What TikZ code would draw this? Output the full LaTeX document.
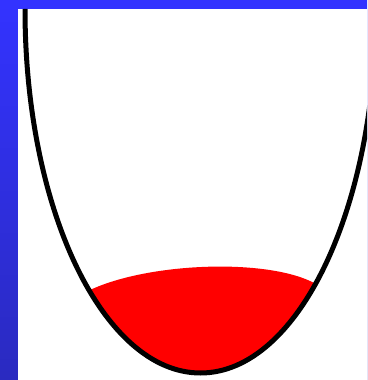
\documentclass[tikz,border=0pt]{standalone}
\definecolor{bgtop}{RGB}{51,51,255}
\definecolor{bgbot}{RGB}{42,42,192}
\definecolor{liquid}{RGB}{255,0,0}
\begin{document}
\begin{tikzpicture}[x=1pt,y=1pt,
  bowl/.style={draw=black,line width=5pt},
  liquidfill/.style={fill=liquid}]
\useasboundingbox (0,0) rectangle (367,380);
\clip (0,0) rectangle (367,380);
% background
\shade[top color=bgtop,bottom color=bgbot] (0,0) rectangle (367,380);
\fill[bgtop] (0,371) rectangle (367,380);
\fill[white] (18,0) rectangle (367,371);
% liquid
\begin{scope}
  \clip (200.5,371) ellipse [x radius=175.5, y radius=364];
  \path[liquidfill] (60,90) -- (90,90) .. controls (150,118) and (270,122) .. (316,96) -- (340,96) -- (340,0) -- (60,0) -- cycle;
\end{scope}
% bowl
\draw[bowl] (25,371) arc[start angle=180, end angle=360, x radius=175.5, y radius=364];
\end{tikzpicture}
\end{document}
